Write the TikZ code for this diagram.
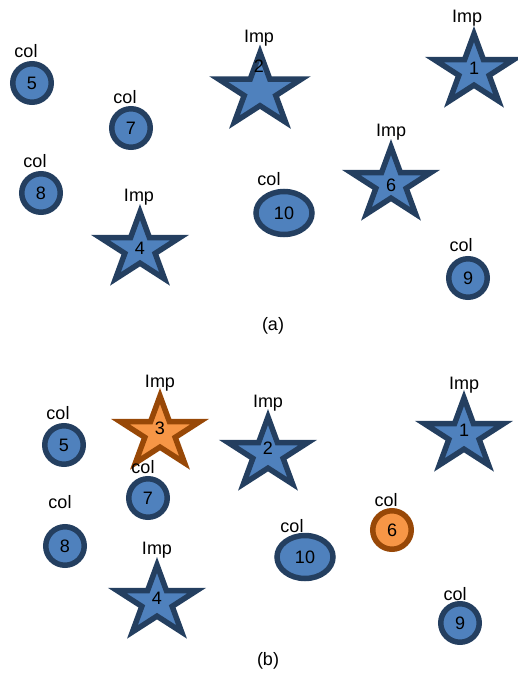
\documentclass[tikz,border=0pt]{standalone}
\usepackage{fontspec}
\setmainfont{Liberation Sans}
\usepackage{xcolor}
\usepackage{tikz}
\usetikzlibrary{shapes.geometric}
\definecolor{bluefill}{HTML}{4F81BD}
\definecolor{blueline}{HTML}{243F60}
\definecolor{orangefill}{HTML}{F79646}
\definecolor{orangeline}{HTML}{984807}
\tikzstyle{colcirc}=[circle, draw=blueline, fill=bluefill, line width=5.5pt, minimum size=38.5pt, inner sep=0pt]
\tikzstyle{colell}=[ellipse, draw=blueline, fill=bluefill, line width=5.5pt, minimum width=56pt, minimum height=43pt, inner sep=0pt]
\tikzstyle{impstar}=[star, star points=5, star point ratio=2.618, draw=blueline, fill=bluefill, line width=5.5pt, minimum size=74pt, inner sep=0pt, xscale=1.13]
\tikzstyle{hot}=[draw=orangeline, fill=orangefill]
\tikzstyle{tag}=[anchor=base, inner sep=0pt]

\begin{document}
\begin{tikzpicture}[x=1pt, y=-1pt]

\tikzset{every node/.style={font=\fontsize{18pt}{21pt}\selectfont}}
\useasboundingbox (0,0) rectangle (518,677);

% (a) before
\node[impstar] (a1) at (474,71) {};
\node[impstar, minimum size=77pt] (a2) at (260,91) {};
\node[impstar] (a6) at (391,184) {};
\node[impstar] (a4) at (140,249) {};
\node[colcirc] (a5) at (32,83) {5};
\node[colcirc] (a7) at (131,128) {7};
\node[colcirc] (a8) at (41,193) {8};
\node[colcirc] (a9) at (468,278) {9};
\node[colell] (a10) at (284,213) {10};

% numbers in the stars
\node at (474,68) {1};
\node at (259,66) {2};
\node at (391,185) {6};
\node at (140,248) {4};

% labels
\node[tag] at (467,23) {Imp};
\node[tag] at (259,43) {Imp};
\node[tag] at (391,136) {Imp};
\node[tag] at (139,201) {Imp};
\node[tag] at (26,57) {col};
\node[tag] at (125,103) {col};
\node[tag] at (35,167) {col};
\node[tag] at (461,251) {col};
\node[tag] at (269,185) {col};

\node[tag] at (273,330) {(a)};

% (b) after
\node[impstar, hot] (b3) at (160,433) {};
\node[impstar] (b2) at (268,454) {};
\node[impstar] (b1) at (464,435) {};
\node[impstar] (b4) at (157,602) {};
\node[colcirc] (b5) at (64,445) {5};
\node[colcirc] (b7) at (148,498) {7};
\node[colcirc] (b8) at (65,546) {8};
\node[colcirc, hot] (b6) at (392,530) {6};
\node[colcirc] (b9) at (460,623) {9};
\node[colell] (b10) at (305,557) {10};

% numbers in the stars
\node at (160,428) {3};
\node at (268,448) {2};
\node at (464,430) {1};
\node at (157,598) {4};

% labels
\node[tag] at (160,387) {Imp};
\node[tag] at (268,407) {Imp};
\node[tag] at (464,389) {Imp};
\node[tag] at (157,554) {Imp};
\node[tag] at (58,419) {col};
\node[tag] at (143,473) {col};
\node[tag] at (60,508) {col};
\node[tag] at (386,506) {col};
\node[tag] at (455,600) {col};
\node[tag] at (292,532) {col};

\node[tag] at (268,665) {(b)};

\end{tikzpicture}
\end{document}
